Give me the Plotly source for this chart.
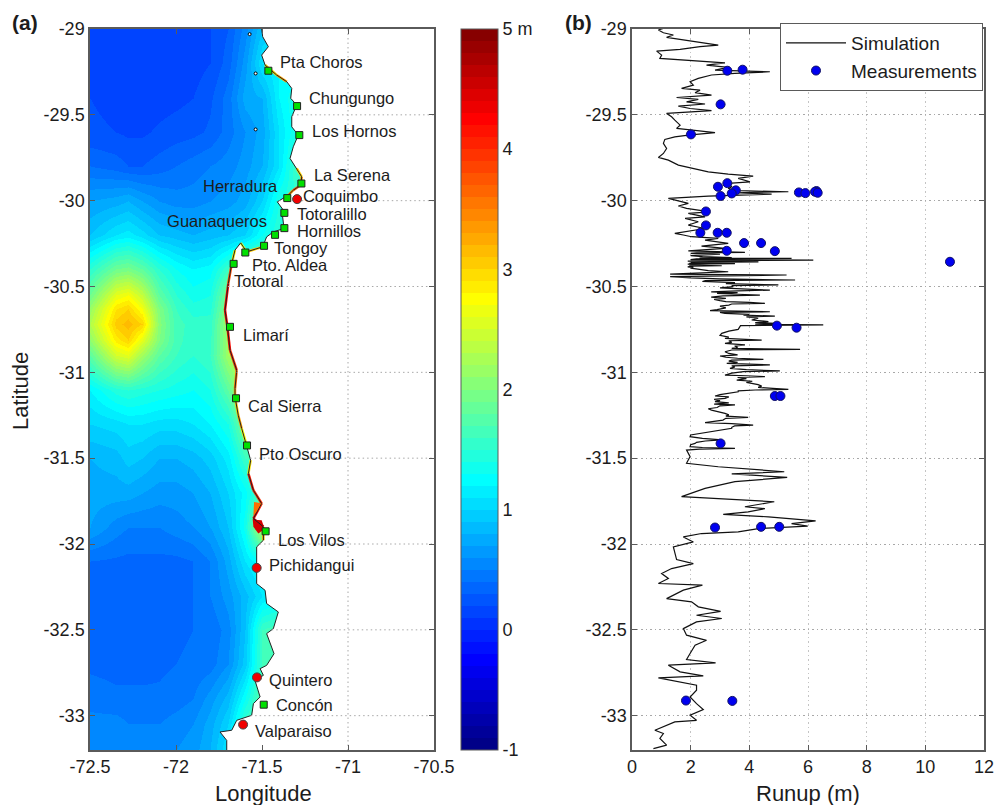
import numpy as np
import plotly.graph_objects as go

# ---------- panel (a): field ----------
grid_lon = [-72.5,-72.35,-72.28,-72.2,-72.1,-72.0,-71.9,-71.8,-71.7,-71.6,-71.5,-71.4,-71.3,-71.2]
grid_lat = [-33.2,-33.05,-32.9,-32.7,-32.5,-32.3,-32.1,-31.9,-31.7,-31.5,-31.3,-31.1,-30.9,-30.81,-30.72,-30.63,-30.55,-30.4,-30.2,-30.0,-29.8,-29.6,-29.4,-29.2,-29.0]
field = [
 [.6,.6,.55,.55,.55,.6,.65,.8,1.1,1.3,1.3,1.3,1.3,1.3],
 [.55,.55,.5,.5,.5,.55,.6,.75,1.0,1.6,1.6,1.6,1.6,1.6],
 [.45,.42,.42,.42,.42,.45,.5,.65,.85,1.3,1.8,1.8,1.8,1.8],
 [.38,.37,.37,.37,.38,.4,.42,.45,.6,.95,1.6,1.7,1.7,1.7],
 [.37,.36,.36,.36,.37,.38,.4,.42,.55,.9,1.6,1.7,1.7,1.7],
 [.38,.37,.36,.36,.37,.38,.4,.5,.65,.85,1.1,1.2,1.2,1.2],
 [.4,.38,.37,.37,.37,.37,.4,.5,.75,1.1,1.3,1.3,1.3,1.3],
 [.7,.55,.5,.5,.5,.55,.6,.7,.9,1.35,2.4,2.6,2.6,2.6],
 [.75,.75,.75,.7,.65,.65,.7,.8,1.0,1.25,1.7,1.7,1.7,1.7],
 [.8,.85,.95,.9,.8,.8,.85,.95,1.15,1.6,1.7,1.7,1.7,1.7],
 [1.0,1.05,1.1,1.1,1.05,1.05,1.1,1.2,1.4,2.0,2.0,2.0,2.0,2.0],
 [1.2,1.45,1.5,1.45,1.4,1.35,1.3,1.4,1.8,2.4,2.4,2.4,2.4,2.4],
 [1.8,2.5,2.6,2.2,1.8,1.6,1.5,1.6,2.2,2.4,2.4,2.4,2.4,2.4],
 [2.1,2.85,3.0,2.6,2.0,1.65,1.52,1.57,2.2,2.4,2.4,2.4,2.4,2.4],
 [2.3,3.05,3.15,3.0,2.05,1.65,1.55,1.55,2.2,2.4,2.4,2.4,2.4,2.4],
 [2.15,2.9,3.0,2.7,2.0,1.6,1.45,1.47,2.1,2.3,2.3,2.3,2.3,2.3],
 [1.9,2.6,2.7,2.4,1.8,1.5,1.35,1.4,2.0,2.2,2.2,2.2,2.2,2.2],
 [1.5,1.9,1.95,1.8,1.5,1.3,1.2,1.25,1.6,2.0,2.0,2.0,2.0,2.0],
 [.9,1.1,1.15,1.05,.9,.85,.8,.85,.9,1.0,1.3,1.5,1.5,1.5],
 [.7,.75,.8,.7,.6,.55,.55,.6,.65,.75,1.0,1.4,1.5,1.5],
 [.4,.35,.3,.3,.35,.4,.45,.5,.55,.65,.8,1.1,1.6,1.6],
 [.22,.2,.18,.18,.22,.25,.27,.32,.45,.6,.75,1.1,1.4,1.4],
 [.2,.17,.15,.15,.15,.17,.2,.28,.45,.75,.8,1.2,1.4,1.4],
 [.15,.13,.12,.12,.12,.12,.15,.2,.35,.65,1.1,1.2,1.2,1.2],
 [.15,.12,.1,.1,.1,.12,.15,.2,.3,.55,.9,1.0,1.0,1.0],
]

coast_lon = [-71.502,-71.496,-71.463,-71.502,-71.482,-71.415,-71.356,-71.327,-71.333,-71.298,-71.327,-71.327,-71.289,-71.318,-71.337,-71.298,-71.269,-71.275,-71.318,-71.347,-71.411,-71.376,-71.380,-71.372,-71.434,-71.473,-71.496,-71.589,-71.624,-71.657,-71.676,-71.696,-71.715,-71.701,-71.686,-71.647,-71.657,-71.657,-71.638,-71.618,-71.589,-71.566,-71.579,-71.55,-71.502,-71.55,-71.492,-71.492,-71.531,-71.531,-71.531,-71.482,-71.473,-71.405,-71.434,-71.473,-71.43,-71.473,-71.511,-71.492,-71.541,-71.511,-71.55,-71.56,-71.647,-71.676,-71.744,-71.705,-71.705]
coast_lat = [-29.0,-29.045,-29.103,-29.152,-29.21,-29.268,-29.307,-29.346,-29.404,-29.443,-29.511,-29.57,-29.618,-29.686,-29.754,-29.812,-29.861,-29.909,-29.939,-29.968,-30.007,-30.055,-30.094,-30.162,-30.182,-30.211,-30.269,-30.298,-30.246,-30.288,-30.366,-30.483,-30.638,-30.735,-30.871,-30.988,-31.095,-31.143,-31.25,-31.327,-31.424,-31.512,-31.59,-31.687,-31.764,-31.852,-31.9,-31.978,-32.017,-32.143,-32.231,-32.27,-32.347,-32.396,-32.493,-32.522,-32.639,-32.707,-32.726,-32.765,-32.794,-32.891,-32.93,-32.998,-33.027,-33.085,-33.095,-33.144,-33.206]
coast_val = [.9,.9,.9,1,2.2,3.8,2.8,1.5,1.5,1.8,1.3,1.3,1.5,1.3,1.5,2.5,3.5,3.2,4.3,2.5,1.3,1.5,1.5,1.8,1.6,1.8,2.8,3.3,1.8,2.4,3.4,4.2,4.3,4.2,4.2,3.8,3.4,3.2,3.0,3.6,2.0,1.6,4.2,4.0,4.0,4.5,4.8,1.5,1,.9,1,1,1.2,2,2,2,2,1.6,1.3,1,1.2,1.8,2,2,1.8,1.2,1,1,1]

patch_a_lon = [-71.55,-71.546,-71.496,-71.521]
patch_a_lat = [-31.833,-31.755,-31.764,-31.803]
patch_b_lon = [-71.554,-71.502,-71.492,-71.496,-71.521,-71.55]
patch_b_lat = [-31.858,-31.862,-31.891,-31.92,-31.939,-31.9]

island_lon = [-71.572,-71.537,-71.537]
island_lat = [-29.03,-29.259,-29.585]

green_lon = [-71.463,-71.296,-71.283,-71.271,-71.353,-71.370,-71.370,-71.424,-71.488,-71.597,-71.665,-71.686,-71.651,-71.587,-71.479,-71.490]
green_lat = [-29.243,-29.449,-29.618,-29.900,-29.985,-30.071,-30.160,-30.199,-30.263,-30.302,-30.368,-30.735,-31.151,-31.426,-31.926,-32.936]
red_lon = [-71.296,-71.531,-71.529,-71.610]
red_lat = [-29.991,-32.139,-32.777,-33.052]

label_names = ["Pta Choros","Chungungo","Los Hornos","La Serena","Herradura","Coquimbo","Totoralillo","Guanaqueros","Hornillos","Tongoy","Pto. Aldea","Totoral","Limarí","Cal Sierra","Pto Oscuro","Los Vilos","Pichidangui","Quintero","Concón","Valparaiso"]
label_lon = [-71.395,-71.227,-71.209,-71.198,-71.843,-71.262,-71.297,-72.052,-71.297,-71.430,-71.558,-71.663,-71.610,-71.581,-71.517,-71.407,-71.459,-71.459,-71.419,-71.541]
label_lat = [-29.204,-29.414,-29.606,-29.863,-29.927,-29.985,-30.090,-30.131,-30.190,-30.288,-30.387,-30.480,-30.795,-31.209,-31.489,-31.990,-32.136,-32.806,-32.951,-33.103]

# ---------- panel (b) ----------
lat_north = [-28.99,-29.006,-29.022,-29.035,-29.049,-29.065,-29.084,-29.094,-29.103,-29.119,-29.129,-29.152,-29.171,-29.185,-29.197,-29.210,-29.224,-29.239,-29.249,-29.259,-29.268,-29.288,-29.307,-29.327,-29.346,-29.356,-29.371,-29.385,-29.399,-29.410,-29.424,-29.437,-29.449,-29.463,-29.476,-29.492,-29.511,-29.531,-29.560,-29.579,-29.604,-29.618,-29.628,-29.643,-29.666,-29.696,-29.725,-29.748,-29.764,-29.793,-29.818,-29.832,-29.845,-29.857,-29.870,-29.890,-29.899,-29.919,-29.929,-29.942,-29.948,-29.954,-29.962,-29.973,-29.987,-30.000,-30.016,-30.031,-30.045,-30.065,-30.074,-30.094,-30.103,-30.123,-30.142,-30.162,-30.191,-30.200,-30.210,-30.220,-30.230,-30.249,-30.265,-30.278]
run_north = [1.18,.90,1.07,1.41,1.18,1.81,2.49,2.94,2.32,1.64,.84,1.01,.95,2.03,3.17,2.54,3.28,2.83,4.70,3.51,2.71,2.26,1.98,2.09,1.69,2.32,2.15,2.71,1.52,2.26,1.86,2.49,1.58,1.98,2.71,1.18,1.35,1.46,1.64,1.52,2.83,1.92,1.46,1.12,1.07,1.18,1.07,.90,1.24,1.58,2.20,2.60,3.28,4.13,3.62,4.02,3.28,3.40,3.28,3.62,5.33,3.51,4.76,2.60,1.24,1.58,1.92,1.58,1.86,2.66,1.92,2.49,1.81,2.26,1.92,2.49,1.46,1.75,2.03,2.94,2.49,3.28,2.37,3.17]
lat_mid = [-30.292,-30.297,-30.301,-30.304,-30.307,-30.312,-30.317,-30.320,-30.326,-30.331,-30.334,-30.336,-30.339,-30.343,-30.346,-30.349,-30.352,-30.356,-30.359,-30.362,-30.365,-30.367,-30.370,-30.373,-30.376,-30.379,-30.382,-30.386,-30.389,-30.393,-30.400,-30.408,-30.414,-30.420,-30.428,-30.433,-30.438,-30.443,-30.450,-30.456,-30.462,-30.466,-30.471,-30.478,-30.483,-30.491,-30.495,-30.501,-30.508,-30.513,-30.521,-30.525,-30.531,-30.536,-30.540,-30.545,-30.550,-30.555,-30.562,-30.569,-30.575,-30.582,-30.588,-30.592,-30.598,-30.602,-30.608,-30.614,-30.625,-30.635,-30.641,-30.644,-30.647,-30.651,-30.656,-30.662,-30.667,-30.672,-30.677,-30.685,-30.695,-30.700,-30.705,-30.710,-30.715,-30.720,-30.724,-30.728,-30.734,-30.750,-30.760,-30.773,-30.785,-30.795,-30.802,-30.807,-30.812,-30.816,-30.825,-30.831,-30.840,-30.847,-30.855,-30.860,-30.866,-30.870,-30.875,-30.880,-30.890,-30.898,-30.905,-30.912,-30.918,-30.924,-30.929,-30.935,-30.942,-30.948,-30.952,-30.957,-30.962,-30.970,-30.977,-30.984,-30.992,-30.996,-31.005,-31.016,-31.020,-31.025,-31.030,-31.037,-31.045,-31.052,-31.058,-31.064,-31.072,-31.080,-31.088,-31.094,-31.099,-31.103,-31.108,-31.113,-31.120,-31.130,-31.138,-31.143,-31.152,-31.158,-31.165,-31.171,-31.178,-31.185,-31.190,-31.195,-31.205,-31.212,-31.220,-31.230,-31.239,-31.248,-31.255,-31.262,-31.268,-31.278,-31.285,-31.293,-31.299,-31.307,-31.312,-31.320,-31.326,-31.337,-31.345,-31.355,-31.365,-31.375,-31.385,-31.394,-31.400,-31.408,-31.414,-31.422,-31.433,-31.438,-31.443,-31.447,-31.453]
run_mid = [1.92,2.9,3.85,2.2,2.0,3.0,2.2,2.0,2.4,3.4,2.3,5.44,2.2,2.0,6.18,2.1,1.9,4.31,2.0,2.15,1.95,3.51,1.9,2.2,1.95,3.06,2.0,1.9,2.09,2.0,2.3,2.6,3.28,2.2,1.3,5.27,2.0,1.3,2.0,3.0,5.56,2.5,2.4,3.51,3.2,4.99,3.4,3.45,3.0,3.8,4.70,3.6,2.7,3.6,2.9,3.6,4.36,3.1,2.7,3.2,2.8,3.0,3.2,4.0,4.53,3.4,3.3,3.0,3.2,2.9,2.66,3.6,4.70,3.0,3.17,4.0,3.8,4.87,3.9,4.3,4.08,4.4,4.65,4.2,4.93,4.2,6.52,3.7,3.68,3.62,3.3,3.06,3.0,3.3,3.17,3.8,4.42,3.3,3.4,3.17,3.85,3.5,3.6,3.4,5.73,3.4,3.3,3.17,3.3,3.6,3.0,3.2,3.6,4.48,3.4,3.3,3.6,3.23,4.0,4.70,3.4,3.5,3.34,3.9,5.04,3.8,3.4,3.17,3.9,4.53,3.6,3.9,3.57,4.1,3.9,4.08,4.3,4.42,4.3,4.8,5.33,4.2,3.62,3.62,3.3,3.0,2.83,3.3,3.17,2.8,3.0,2.83,3.3,2.8,3.51,3.0,2.9,2.6,2.71,3.0,3.17,3.3,3.2,3.96,3.2,3.1,2.8,2.49,3.4,4.13,3.5,3.4,3.40,3.0,2.7,2.37,2.0,1.98,2.4,3.06,2.5,2.2,2.15,2.0,1.98,2.4,3.51,2.3,1.86]
lat_south = [-31.491,-31.530,-31.550,-31.579,-31.592,-31.612,-31.637,-31.676,-31.724,-31.740,-31.754,-31.783,-31.794,-31.813,-31.827,-31.842,-31.865,-31.881,-31.896,-31.910,-31.929,-31.939,-31.959,-31.974,-31.988,-32.017,-32.056,-32.091,-32.114,-32.143,-32.172,-32.201,-32.230,-32.240,-32.269,-32.318,-32.337,-32.366,-32.392,-32.415,-32.434,-32.454,-32.493,-32.531,-32.561,-32.590,-32.638,-32.673,-32.693,-32.706,-32.745,-32.768,-32.780,-32.823,-32.852,-32.891,-32.930,-32.964,-32.997,-33.027,-33.036,-33.085,-33.104,-33.133,-33.172,-33.192]
run_south = [1.98,1.86,2.94,5.19,3.40,5.29,3.51,2.49,1.69,3.28,4.85,3.85,4.53,3.96,3.11,4.65,6.26,5.44,5.99,4.31,3.62,2.37,1.75,1.92,2.09,1.41,1.46,1.52,2.09,1.35,1.01,1.24,.90,2.40,1.75,1.18,2.03,2.26,3.02,2.20,3.06,2.20,1.75,1.86,2.54,2.15,1.98,1.86,2.85,1.24,1.64,2.43,.90,2.20,2.20,1.98,2.20,2.43,1.98,2.20,1.46,.78,1.07,.95,1.18,.73]

meas_run = [3.25,3.77,3.02,2.01,3.25,2.93,3.54,3.40,3.02,5.69,5.91,6.29,6.24,6.33,2.52,2.52,2.33,2.92,3.23,3.82,4.40,4.87,3.23,10.84,4.94,5.61,4.87,5.06,3.02,2.83,4.40,5.02,1.84,3.42]
meas_lat = [-29.243,-29.237,-29.439,-29.614,-29.898,-29.919,-29.940,-29.958,-29.973,-29.952,-29.956,-29.944,-29.948,-29.954,-30.063,-30.144,-30.187,-30.187,-30.187,-30.247,-30.247,-30.294,-30.292,-30.356,-30.728,-30.740,-31.138,-31.138,-31.414,-31.904,-31.900,-31.900,-32.912,-32.914]

lat_ticks = [-29,-29.5,-30,-30.5,-31,-31.5,-32,-32.5,-33]
lat_text = ["-29","-29.5","-30","-30.5","-31","-31.5","-32","-32.5","-33"]
lon_ticks = [-72.5,-72,-71.5,-71,-70.5]
lon_text = ["-72.5","-72","-71.5","-71","-70.5"]
run_ticks = [0,2,4,6,8,10,12]
run_text = ["0","2","4","6","8","10","12"]
cb_ticks = [-1,0,1,2,3,4,5]
cb_text = ["-1","0","1","2","3","4","5 m"]

assert len(coast_lon)==len(coast_lat)==len(coast_val)
assert len(lat_north)==len(run_north), (len(lat_north),len(run_north))
assert len(lat_mid)==len(run_mid), (len(lat_mid),len(run_mid))
assert len(lat_south)==len(run_south), (len(lat_south),len(run_south))
assert len(meas_run)==len(meas_lat)

def jet(t):
    r = np.clip(min(4*t-1.5, -4*t+4.5),0,1)
    g = np.clip(min(4*t-0.5, -4*t+3.5),0,1)
    b = np.clip(min(4*t+0.5, -4*t+2.5),0,1)
    return f"rgb({int(r*255)},{int(g*255)},{int(b*255)})"
N = 60
scale = []
for i in range(N):
    c = jet((i+0.5)/N)
    scale += [[i/N,c],[(i+1)/N,c]]
def col(v):
    return jet((v+1)/6)

W,H = 997,805
L,R,T,B = 90,984,29,750
PW,PH = R-L,B-T
AX = "#5a5a5a"; TXT = "#1c1c1c"; GR = "#a8a8a8"
FONT = "Liberation Sans"
DOT = "1.5px,3px"
def px(x): return (x-L)/PW
def py(y): return (B-y)/PH

fig = go.Figure()
fig.add_trace(go.Heatmap(x=grid_lon,y=grid_lat,z=field,zmin=-1,zmax=5,zsmooth="best",colorscale=scale,
    xaxis="x",yaxis="y",showlegend=False,
    colorbar=dict(x=px(461),xanchor="left",thickness=37,thicknessmode="pixels",len=1,lenmode="fraction",y=0.5,yanchor="middle",
                  ypad=0,xpad=0,tickvals=cb_ticks,ticktext=cb_text,ticks="",outlinecolor=AX,outlinewidth=1,
                  tickfont=dict(size=18,color=TXT,family=FONT))))
fig.add_trace(go.Scatter(x=coast_lon+[-70.5,-70.5],y=coast_lat+[-33.206,-29.0],fill="toself",fillcolor="white",mode="none",
    xaxis="x",yaxis="y",showlegend=False,hoverinfo="skip"))
for i in range(len(coast_lon)-1):
    v = 0.5*(coast_val[i]+coast_val[i+1])
    if v>=2.4:
        fig.add_trace(go.Scatter(x=coast_lon[i:i+2],y=coast_lat[i:i+2],mode="lines",line=dict(color=col(v),width=2.5),
            xaxis="x",yaxis="y",showlegend=False,hoverinfo="skip"))
for plon,plat,c in [(patch_a_lon,patch_a_lat,col(3.6)),(patch_b_lon,patch_b_lat,col(4.5))]:
    fig.add_trace(go.Scatter(x=plon,y=plat,fill="toself",fillcolor=c,mode="none",xaxis="x",yaxis="y",showlegend=False,hoverinfo="skip"))
fig.add_trace(go.Scatter(x=coast_lon,y=coast_lat,mode="lines",line=dict(color="#222",width=1),xaxis="x",yaxis="y",showlegend=False,hoverinfo="skip"))
fig.add_trace(go.Scatter(x=island_lon,y=island_lat,mode="markers",marker=dict(size=3,color="white",line=dict(color="black",width=1)),xaxis="x",yaxis="y",showlegend=False,hoverinfo="skip"))
order = np.argsort(coast_lat)
gx,gy = [],[]
for la in lat_ticks[1:]:
    gx += [float(np.interp(la,np.array(coast_lat)[order],np.array(coast_lon)[order])),-70.5,None]
    gy += [la,la,None]
gx += [-71,-71]; gy += [-29,-33.2]
fig.add_trace(go.Scatter(x=gx,y=gy,mode="lines",line=dict(color=GR,width=1,dash=DOT),xaxis="x",yaxis="y",showlegend=False,hoverinfo="skip"))
fig.add_trace(go.Scatter(x=green_lon,y=green_lat,mode="markers",marker=dict(symbol="square",size=7,color="#00e000",line=dict(color="#222",width=1)),xaxis="x",yaxis="y",showlegend=False))
fig.add_trace(go.Scatter(x=red_lon,y=red_lat,mode="markers",marker=dict(symbol="circle",size=9,color="#f00000",line=dict(color="#444",width=1)),xaxis="x",yaxis="y",showlegend=False))
fig.add_trace(go.Scatter(x=label_lon,y=label_lat,text=label_names,mode="text",textposition="middle right",textfont=dict(size=16.5,color=TXT,family=FONT),xaxis="x",yaxis="y",showlegend=False,cliponaxis=False))

fig.add_trace(go.Scatter(x=run_north+run_mid+run_south,y=lat_north+lat_mid+lat_south,mode="lines",name="Simulation",line=dict(color="#111",width=1.2),xaxis="x2",yaxis="y2"))
fig.add_trace(go.Scatter(x=meas_run,y=meas_lat,mode="markers",name="Measurements",marker=dict(size=9,color="#0000f0",line=dict(color="#111166",width=1)),xaxis="x2",yaxis="y2"))

axis = dict(ticks="inside",ticklen=5,tickwidth=1,tickcolor=AX,linecolor=AX,linewidth=1.5,mirror="allticks",showline=True,zeroline=False,
            automargin=False,tickmode="array",tickfont=dict(size=18,color=TXT,family=FONT))
def note(text,x,y,size,angle=0,anchor="center"):
    return dict(text=text,xref="paper",yref="paper",x=px(x),y=py(y),xanchor=anchor,yanchor="middle",showarrow=False,textangle=angle,
                font=dict(size=size,color=TXT,family=FONT))
fig.update_layout(
    width=W,height=H,autosize=False,paper_bgcolor="white",plot_bgcolor="white",
    margin=dict(l=L,r=W-R,t=T,b=H-B,pad=0,autoexpand=False),
    font=dict(family=FONT,color=TXT),
    xaxis=dict(domain=[0,px(434)],range=[-72.5,-70.5],tickvals=lon_ticks,ticktext=lon_text,showgrid=False,**axis),
    yaxis=dict(domain=[0,1],range=[-33.2,-29],tickvals=lat_ticks,ticktext=lat_text,showgrid=False,anchor="x",**axis),
    xaxis2=dict(domain=[px(632),1],range=[0,12],tickvals=run_ticks,ticktext=run_text,showgrid=True,gridcolor="#c4c4c4",griddash=DOT,anchor="y2",**axis),
    yaxis2=dict(domain=[0,1],range=[-33.2,-29],tickvals=lat_ticks,ticktext=lat_text,showgrid=True,gridcolor=GR,griddash=DOT,anchor="x2",**axis),
    legend=dict(x=px(780),y=py(23),xanchor="left",yanchor="top",bgcolor="white",bordercolor=AX,borderwidth=1,
                font=dict(size=19,color=TXT,family=FONT),itemwidth=60,tracegroupgap=0),
    annotations=[
        note("<b>(a)</b>",10,22,21,anchor="left"),
        note("<b>(b)</b>",563,22,21,anchor="left"),
        note("Longitude",263,793,22),
        note("Runup (m)",808,793,22),
        note("Latitude",20,391,22,angle=-90),
    ],
)
fig.write_html("out.html",config={"displayModeBar":False},post_script="document.body.style.margin='0';document.documentElement.style.overflow='hidden';")
